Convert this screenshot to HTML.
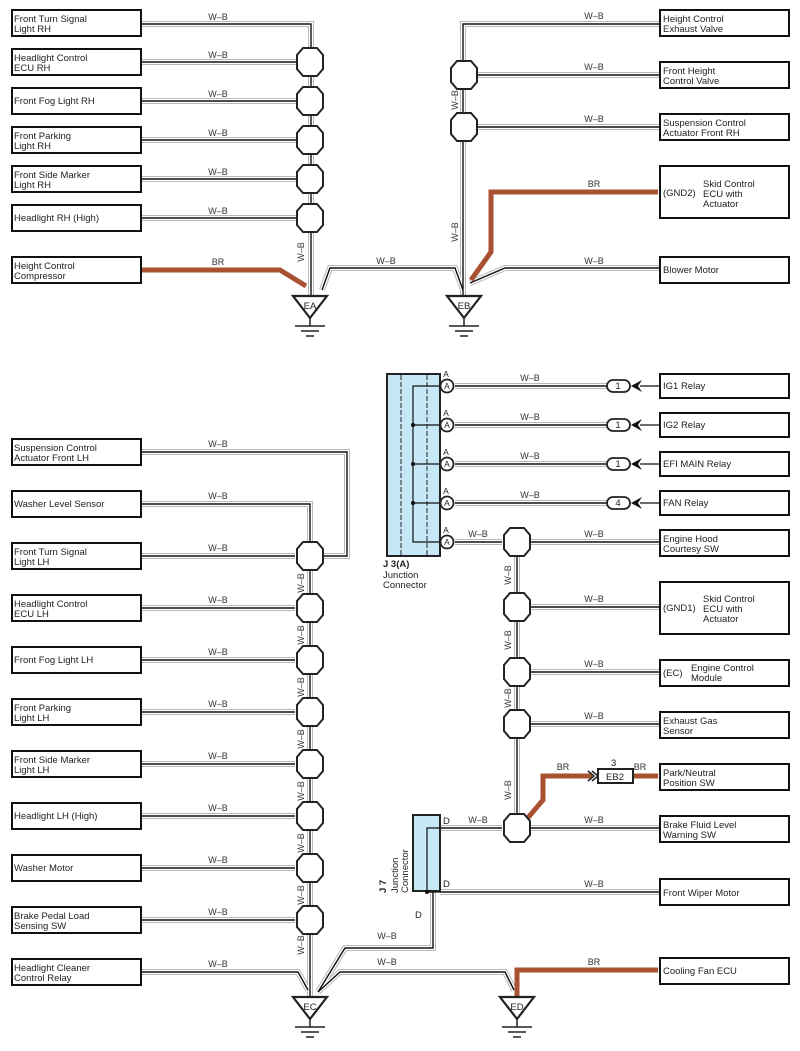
<!DOCTYPE html>
<html><head><meta charset="utf-8"><style>
html,body{margin:0;padding:0;background:#fff;}
svg{display:block;font-family:"Liberation Sans",sans-serif;}
.bx{fill:#fff;stroke:#111;stroke-width:2}
.t{font-size:9.5px;fill:#222}
.l{font-size:9px;fill:#333}
.oc{fill:#fff;stroke:#222;stroke-width:2}
</style></head><body>
<svg width="800" height="1051" viewBox="0 0 800 1051" xmlns="http://www.w3.org/2000/svg">
<defs>
<g id="W" fill="none" stroke-linejoin="miter">
<path d="M141 24H311V295"/>
<path d="M141 62H296"/><path d="M141 101H296"/><path d="M141 140H296"/><path d="M141 179H296"/><path d="M141 218H296"/>
<path d="M322 290L330 268H455L463 290"/>
<path d="M660 24H463V295"/>
<path d="M660 75H478"/><path d="M660 127H478"/>
<path d="M660 268H505L470 283"/>
<path d="M455 386H607"/><path d="M455 425H607"/><path d="M455 464H607"/><path d="M455 503H607"/>
<path d="M455 542H502"/><path d="M531 542H660"/>
<path d="M517 556V814"/>
<path d="M531 607H660"/><path d="M531 672H660"/><path d="M531 724H660"/><path d="M531 828H660"/>
<path d="M440 828H502"/><path d="M440 892H660"/>
<path d="M433 890V948H345L318 992"/>
<path d="M141 452H347V556H323"/>
<path d="M141 504H310V542"/>
<path d="M141 556H295"/><path d="M141 608H295"/><path d="M141 660H295"/><path d="M141 712H295"/><path d="M141 764H295"/><path d="M141 816H295"/><path d="M141 868H295"/><path d="M141 920H295"/>
<path d="M310 570V996"/>
<path d="M141 972H298L308 990"/>
<path d="M318 992L340 972H505L514 990"/>
</g>
</defs>
<use href="#W" stroke="#b8b8b8" stroke-width="6"/>
<use href="#W" stroke="#fff" stroke-width="4"/>
<use href="#W" stroke="#111" stroke-width="1.4"/>

<g fill="none" stroke="#a85232" stroke-width="5">
<path d="M141 270H280L306 286"/>
<path d="M658 192H491V252L471 280"/>
<path d="M526 820L543 800V776H592"/>
<path d="M633 776H658"/>
<path d="M658 970H517V996"/>
</g>

<g class="oc">
<polygon points="303,48 317,48 323,55 323,69 317,76 303,76 297,69 297,55"/>
<polygon points="303,87 317,87 323,94 323,108 317,115 303,115 297,108 297,94"/>
<polygon points="303,126 317,126 323,133 323,147 317,154 303,154 297,147 297,133"/>
<polygon points="303,165 317,165 323,172 323,186 317,193 303,193 297,186 297,172"/>
<polygon points="303,204 317,204 323,211 323,225 317,232 303,232 297,225 297,211"/>
<polygon points="457,61 471,61 477,68 477,82 471,89 457,89 451,82 451,68"/>
<polygon points="457,113 471,113 477,120 477,134 471,141 457,141 451,134 451,120"/>
<polygon points="510,528 524,528 530,535 530,549 524,556 510,556 504,549 504,535"/>
<polygon points="510,593 524,593 530,600 530,614 524,621 510,621 504,614 504,600"/>
<polygon points="510,658 524,658 530,665 530,679 524,686 510,686 504,679 504,665"/>
<polygon points="510,710 524,710 530,717 530,731 524,738 510,738 504,731 504,717"/>
<polygon points="510,814 524,814 530,821 530,835 524,842 510,842 504,835 504,821"/>
<polygon points="303,542 317,542 323,549 323,563 317,570 303,570 297,563 297,549"/>
<polygon points="303,594 317,594 323,601 323,615 317,622 303,622 297,615 297,601"/>
<polygon points="303,646 317,646 323,653 323,667 317,674 303,674 297,667 297,653"/>
<polygon points="303,698 317,698 323,705 323,719 317,726 303,726 297,719 297,705"/>
<polygon points="303,750 317,750 323,757 323,771 317,778 303,778 297,771 297,757"/>
<polygon points="303,802 317,802 323,809 323,823 317,830 303,830 297,823 297,809"/>
<polygon points="303,854 317,854 323,861 323,875 317,882 303,882 297,875 297,861"/>
<polygon points="303,906 317,906 323,913 323,927 317,934 303,934 297,927 297,913"/>
</g>

<g fill="#fff" stroke="#222" stroke-width="2.2">
<polygon points="293,296 327,296 310,318"/>
<polygon points="447,296 481,296 464,318"/>
<polygon points="293,997 327,997 310,1019"/>
<polygon points="500,997 534,997 517,1019"/>
</g>
<g stroke="#222" stroke-width="1.5">
<path d="M310 318V326M295 326H325M301 331H319M306 336H314"/>
<path d="M464 318V326M449 326H479M455 331H473M460 336H468"/>
<path d="M310 1019V1027M295 1027H325M301 1032H319M306 1037H314"/>
<path d="M517 1019V1027M502 1027H532M508 1032H526M513 1037H521"/>
</g>
<g class="t" text-anchor="middle">
<text x="310" y="309">EA</text><text x="464" y="309">EB</text>
<text x="310" y="1010">EC</text><text x="517" y="1010">ED</text>
</g>

<rect x="387" y="374" width="53" height="182" fill="#c6e8f6" stroke="#222" stroke-width="2"/>
<g stroke="#222" stroke-width="1" stroke-dasharray="5,2"><path d="M401 375V555M427 375V555"/></g>
<g fill="none" stroke="#111" stroke-width="1.2"><path d="M440 386H413V542H440M413 425H440M413 464H440M413 503H440"/></g>
<g fill="#111"><circle cx="413" cy="425" r="2"/><circle cx="413" cy="464" r="2"/><circle cx="413" cy="503" r="2"/></g>
<g fill="#fff" stroke="#222" stroke-width="1.8">
<circle cx="447" cy="386" r="6.5"/><circle cx="447" cy="425" r="6.5"/><circle cx="447" cy="464" r="6.5"/><circle cx="447" cy="503" r="6.5"/><circle cx="447" cy="542" r="6.5"/>
</g>
<g class="t" text-anchor="middle" style="font-size:8.5px">
<text x="447" y="389">A</text><text x="447" y="428">A</text><text x="447" y="467">A</text><text x="447" y="506">A</text><text x="447" y="545">A</text>
<text x="446" y="377">A</text><text x="446" y="416">A</text><text x="446" y="455">A</text><text x="446" y="494">A</text><text x="446" y="533">A</text>
</g>
<text x="383" y="567" class="t" font-weight="bold">J 3(A)</text>
<text x="383" y="578" class="t">Junction</text>
<text x="383" y="588" class="t">Connector</text>

<g fill="#fff" stroke="#222" stroke-width="1.8">
<rect x="607" y="380" width="23" height="12" rx="6"/><rect x="607" y="419" width="23" height="12" rx="6"/><rect x="607" y="458" width="23" height="12" rx="6"/><rect x="607" y="497" width="23" height="12" rx="6"/>
</g>
<g class="t" text-anchor="middle"><text x="618" y="389">1</text><text x="618" y="428">1</text><text x="618" y="467">1</text><text x="618" y="506">4</text></g>
<g stroke="#111" stroke-width="1.2" fill="none"><path d="M640 386H660M640 425H660M640 464H660M640 503H660"/></g>
<g fill="#111">
<polygon points="631,386 642,380 638,386 642,392"/><polygon points="631,425 642,419 638,425 642,431"/><polygon points="631,464 642,458 638,464 642,470"/><polygon points="631,503 642,497 638,503 642,509"/>
</g>

<rect x="413" y="815" width="27" height="76" fill="#c6e8f6" stroke="#222" stroke-width="2"/>
<g fill="none" stroke="#111" stroke-width="1.2"><path d="M440 828H427V892H440"/></g>
<circle cx="427" cy="892" r="2" fill="#111"/>
<g class="t"><text x="443" y="824">D</text><text x="443" y="887">D</text><text x="415" y="918">D</text></g>
<g class="t" transform="rotate(-90)"><text x="-893" y="386" font-weight="bold">J 7</text><text x="-893" y="398">Junction</text><text x="-893" y="408">Connector</text></g>

<rect x="598" y="769" width="35" height="14" fill="#fff" stroke="#222" stroke-width="2"/>
<text x="615" y="780" class="t" text-anchor="middle">EB2</text>
<text x="611" y="766" class="t">3</text>
<path d="M588 771L594 776L588 781M592 771L598 776L592 781" fill="none" stroke="#222" stroke-width="1.5"/>

<g class="bx">
<rect x="12" y="10" width="129" height="26"/><rect x="12" y="49" width="129" height="26"/><rect x="12" y="88" width="129" height="26"/><rect x="12" y="127" width="129" height="26"/><rect x="12" y="166" width="129" height="26"/><rect x="12" y="205" width="129" height="26"/><rect x="12" y="257" width="129" height="26"/>
<rect x="660" y="10" width="129" height="26"/><rect x="660" y="62" width="129" height="26"/><rect x="660" y="114" width="129" height="26"/><rect x="660" y="166" width="129" height="52"/><rect x="660" y="257" width="129" height="26"/>
<rect x="660" y="374" width="129" height="24"/><rect x="660" y="413" width="129" height="24"/><rect x="660" y="452" width="129" height="24"/><rect x="660" y="491" width="129" height="24"/>
<rect x="660" y="530" width="129" height="26"/><rect x="660" y="582" width="129" height="52"/><rect x="660" y="660" width="129" height="26"/><rect x="660" y="712" width="129" height="26"/><rect x="660" y="764" width="129" height="26"/><rect x="660" y="816" width="129" height="26"/><rect x="660" y="879" width="129" height="26"/><rect x="660" y="958" width="129" height="26"/>
<rect x="12" y="439" width="129" height="26"/><rect x="12" y="491" width="129" height="26"/><rect x="12" y="543" width="129" height="26"/><rect x="12" y="595" width="129" height="26"/><rect x="12" y="647" width="129" height="26"/><rect x="12" y="699" width="129" height="26"/><rect x="12" y="751" width="129" height="26"/><rect x="12" y="803" width="129" height="26"/><rect x="12" y="855" width="129" height="26"/><rect x="12" y="907" width="129" height="26"/><rect x="12" y="959" width="129" height="26"/>
</g>
<g class="t">
<text x="14" y="22">Front Turn Signal</text><text x="14" y="32">Light RH</text>
<text x="14" y="61">Headlight Control</text><text x="14" y="71">ECU RH</text>
<text x="14" y="104">Front Fog Light RH</text>
<text x="14" y="139">Front Parking</text><text x="14" y="149">Light RH</text>
<text x="14" y="178">Front Side Marker</text><text x="14" y="188">Light RH</text>
<text x="14" y="221">Headlight RH (High)</text>
<text x="14" y="269">Height Control</text><text x="14" y="279">Compressor</text>
<text x="663" y="22">Height Control</text><text x="663" y="32">Exhaust Valve</text>
<text x="663" y="74">Front Height</text><text x="663" y="84">Control Valve</text>
<text x="663" y="126">Suspension Control</text><text x="663" y="136">Actuator Front RH</text>
<text x="663" y="196">(GND2)</text><text x="703" y="187">Skid Control</text><text x="703" y="197">ECU with</text><text x="703" y="207">Actuator</text>
<text x="663" y="273">Blower Motor</text>
<text x="663" y="389">IG1 Relay</text><text x="663" y="428">IG2 Relay</text><text x="663" y="467">EFI MAIN Relay</text><text x="663" y="506">FAN Relay</text>
<text x="663" y="542">Engine Hood</text><text x="663" y="552">Courtesy SW</text>
<text x="663" y="611">(GND1)</text><text x="703" y="602">Skid Control</text><text x="703" y="612">ECU with</text><text x="703" y="622">Actuator</text>
<text x="663" y="676">(EC)</text><text x="691" y="671">Engine Control</text><text x="691" y="681">Module</text>
<text x="663" y="724">Exhaust Gas</text><text x="663" y="734">Sensor</text>
<text x="663" y="776">Park/Neutral</text><text x="663" y="786">Position SW</text>
<text x="663" y="828">Brake Fluid Level</text><text x="663" y="838">Warning SW</text>
<text x="663" y="896">Front Wiper Motor</text>
<text x="663" y="974">Cooling Fan ECU</text>
<text x="14" y="451">Suspension Control</text><text x="14" y="461">Actuator Front LH</text>
<text x="14" y="507">Washer Level Sensor</text>
<text x="14" y="555">Front Turn Signal</text><text x="14" y="565">Light LH</text>
<text x="14" y="607">Headlight Control</text><text x="14" y="617">ECU LH</text>
<text x="14" y="663">Front Fog Light LH</text>
<text x="14" y="711">Front Parking</text><text x="14" y="721">Light LH</text>
<text x="14" y="763">Front Side Marker</text><text x="14" y="773">Light LH</text>
<text x="14" y="819">Headlight LH (High)</text>
<text x="14" y="871">Washer Motor</text>
<text x="14" y="919">Brake Pedal Load</text><text x="14" y="929">Sensing SW</text>
<text x="14" y="971">Headlight Cleaner</text><text x="14" y="981">Control Relay</text>
</g>

<g class="l" text-anchor="middle">
<text x="218" y="20">W–B</text><text x="218" y="58">W–B</text><text x="218" y="97">W–B</text><text x="218" y="136">W–B</text><text x="218" y="175">W–B</text><text x="218" y="214">W–B</text><text x="218" y="265">BR</text>
<text x="386" y="264">W–B</text>
<text x="594" y="19">W–B</text><text x="594" y="70">W–B</text><text x="594" y="122">W–B</text><text x="594" y="187">BR</text><text x="594" y="264">W–B</text>
<text x="530" y="381">W–B</text><text x="530" y="420">W–B</text><text x="530" y="459">W–B</text><text x="530" y="498">W–B</text>
<text x="478" y="537">W–B</text><text x="594" y="537">W–B</text><text x="594" y="602">W–B</text><text x="594" y="667">W–B</text><text x="594" y="719">W–B</text>
<text x="563" y="770">BR</text><text x="640" y="770">BR</text>
<text x="478" y="823">W–B</text><text x="594" y="823">W–B</text><text x="594" y="887">W–B</text>
<text x="387" y="939">W–B</text><text x="387" y="965">W–B</text><text x="594" y="965">BR</text>
<text x="218" y="447">W–B</text><text x="218" y="499">W–B</text><text x="218" y="551">W–B</text><text x="218" y="603">W–B</text><text x="218" y="655">W–B</text><text x="218" y="707">W–B</text><text x="218" y="759">W–B</text><text x="218" y="811">W–B</text><text x="218" y="863">W–B</text><text x="218" y="915">W–B</text><text x="218" y="967">W–B</text>
</g>
<g class="l" text-anchor="middle">
<text transform="translate(304,252) rotate(-90)">W–B</text>
<text transform="translate(458,100) rotate(-90)">W–B</text>
<text transform="translate(458,232) rotate(-90)">W–B</text>
<text transform="translate(511,575) rotate(-90)">W–B</text>
<text transform="translate(511,640) rotate(-90)">W–B</text>
<text transform="translate(511,698) rotate(-90)">W–B</text>
<text transform="translate(511,790) rotate(-90)">W–B</text>
<text transform="translate(304,583) rotate(-90)">W–B</text>
<text transform="translate(304,635) rotate(-90)">W–B</text>
<text transform="translate(304,687) rotate(-90)">W–B</text>
<text transform="translate(304,739) rotate(-90)">W–B</text>
<text transform="translate(304,791) rotate(-90)">W–B</text>
<text transform="translate(304,843) rotate(-90)">W–B</text>
<text transform="translate(304,895) rotate(-90)">W–B</text>
<text transform="translate(304,945) rotate(-90)">W–B</text>
</g>
</svg>
</body></html>
